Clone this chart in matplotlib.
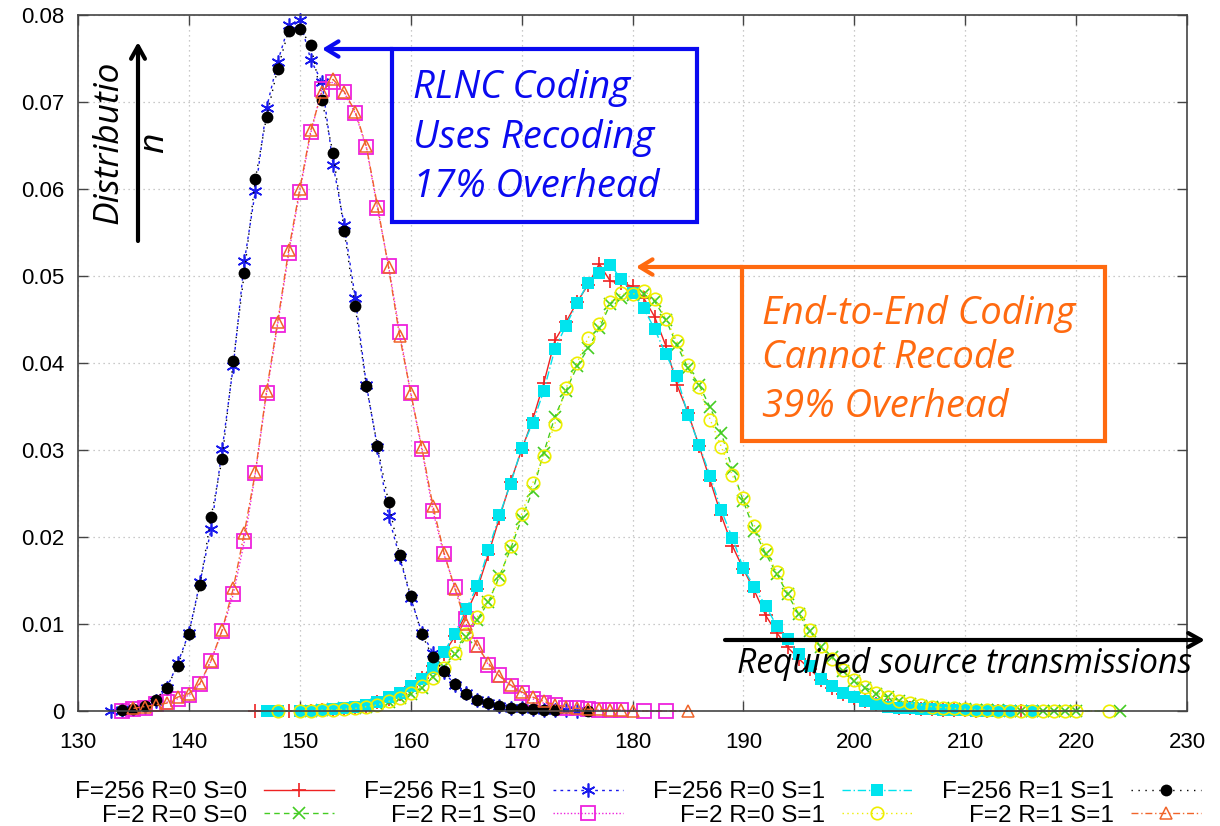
import numpy as np
import matplotlib.pyplot as plt
from matplotlib.patches import Rectangle

plt.rcParams['font.family'] = ['Liberation Sans', 'DejaVu Sans']

W, H = 1220, 826

# ---- data: probability of needing x source transmissions ----
# F=256 R=0 S=0 (core starts at 151)
red_start = 151
red_y = [0.0, 0.0001, 0.0001, 0.0002, 0.0004, 0.0006, 0.0010, 0.0014, 0.0020, 0.0028,
         0.0038, 0.0052, 0.0066, 0.0086, 0.0112, 0.0140, 0.0180, 0.0222, 0.0263, 0.0300,
         0.0335, 0.0377, 0.0426, 0.0447, 0.0470, 0.0490, 0.0514, 0.0494, 0.0492, 0.0488,
         0.0475, 0.0453, 0.0420, 0.0375, 0.0343, 0.0305, 0.0265, 0.0225, 0.0190, 0.0163,
         0.0138, 0.0110, 0.0090, 0.0073, 0.0060, 0.0048, 0.0036, 0.0027, 0.0020, 0.0015,
         0.0011, 0.0008, 0.0006, 0.0004, 0.0003, 0.0002, 0.0002, 0.0001, 0.0001, 0.0001,
         0.0, 0.0, 0.0]
red_pre, red_post = [146, 149], [215]

# F=2 R=0 S=0 (core starts at 151)
green_start = 151
green_y = [0.0, 0.0001, 0.0002, 0.0003, 0.0004, 0.0005, 0.0008, 0.0010, 0.0015, 0.0020,
           0.0027, 0.0039, 0.0051, 0.0066, 0.0085, 0.0105, 0.0125, 0.0155, 0.0186, 0.0221,
           0.0253, 0.0297, 0.0338, 0.0368, 0.0396, 0.0417, 0.0440, 0.0468, 0.0475, 0.0478,
           0.0479, 0.0471, 0.0450, 0.0421, 0.0394, 0.0375, 0.0349, 0.0320, 0.0278, 0.0241,
           0.0207, 0.0181, 0.0158, 0.0134, 0.0111, 0.0092, 0.0073, 0.0062, 0.0046, 0.0035,
           0.0027, 0.0020, 0.0016, 0.0012, 0.0008, 0.0006, 0.0005, 0.0003, 0.0002, 0.0002,
           0.0001, 0.0001, 0.0001, 0.0, 0.0, 0.0, 0.0, 0.0, 0.0, 0.0]
green_pre, green_post = [], [224]

# F=256 R=1 S=0 (core starts at 133)
blue_start = 133
blue_y = [0.0, 0.0001, 0.0002, 0.0005, 0.0012, 0.0026, 0.0055, 0.0090, 0.0148, 0.0209,
          0.0301, 0.0396, 0.0517, 0.0598, 0.0693, 0.0746, 0.0788, 0.0794, 0.0748, 0.0723,
          0.0628, 0.0559, 0.0475, 0.0375, 0.0303, 0.0224, 0.0177, 0.0130, 0.0090, 0.0067,
          0.0045, 0.0030, 0.0021, 0.0013, 0.0009, 0.0006, 0.0004, 0.0003, 0.0002, 0.0001,
          0.0001, 0.0001, 0.0]
blue_pre, blue_post = [], []

# F=2 R=1 S=0 (core starts at 134)
mag_start = 134
mag_y = [0.0, 0.0002, 0.0004, 0.0008, 0.0010, 0.0014, 0.0018, 0.0031, 0.0058, 0.0092,
         0.0134, 0.0195, 0.0274, 0.0365, 0.0444, 0.0526, 0.0597, 0.0665, 0.0715, 0.0723,
         0.0711, 0.0687, 0.0648, 0.0578, 0.0512, 0.0436, 0.0365, 0.0301, 0.0230, 0.0180,
         0.0142, 0.0106, 0.0076, 0.0053, 0.0041, 0.0029, 0.0021, 0.0014, 0.0009, 0.0007,
         0.0004, 0.0003, 0.0002, 0.0001, 0.0001, 0.0001]
mag_pre, mag_post = [], [181, 183]

# F=256 R=0 S=1 (core starts at 150)
cyan_start = 150
cyan_y = [0.0, 0.0, 0.0001, 0.0002, 0.0003, 0.0005, 0.0007, 0.0010, 0.0016, 0.0021,
          0.0029, 0.0037, 0.0050, 0.0068, 0.0089, 0.0117, 0.0144, 0.0185, 0.0225, 0.0261,
          0.0302, 0.0331, 0.0368, 0.0416, 0.0443, 0.0469, 0.0492, 0.0504, 0.0513, 0.0496,
          0.0481, 0.0463, 0.0439, 0.0410, 0.0385, 0.0340, 0.0306, 0.0270, 0.0231, 0.0199,
          0.0164, 0.0142, 0.0121, 0.0098, 0.0083, 0.0065, 0.0052, 0.0037, 0.0029, 0.0021,
          0.0016, 0.0012, 0.0008, 0.0005, 0.0004, 0.0003, 0.0002, 0.0002, 0.0001, 0.0001,
          0.0001, 0.0, 0.0, 0.0, 0.0]
cyan_pre, cyan_post = [147, 148], [216]

# F=2 R=0 S=1 (core starts at 150)
yel_start = 150
yel_y = [0.0, 0.0, 0.0001, 0.0001, 0.0002, 0.0003, 0.0005, 0.0007, 0.0011, 0.0015,
         0.0021, 0.0029, 0.0038, 0.0050, 0.0067, 0.0088, 0.0108, 0.0127, 0.0152, 0.0190,
         0.0226, 0.0262, 0.0293, 0.0330, 0.0371, 0.0400, 0.0429, 0.0445, 0.0470, 0.0480,
         0.0479, 0.0483, 0.0474, 0.0451, 0.0425, 0.0398, 0.0372, 0.0335, 0.0304, 0.0271,
         0.0245, 0.0213, 0.0185, 0.0160, 0.0136, 0.0113, 0.0093, 0.0075, 0.0060, 0.0047,
         0.0036, 0.0028, 0.0021, 0.0016, 0.0012, 0.0009, 0.0007, 0.0005, 0.0004, 0.0003,
         0.0002, 0.0001, 0.0001, 0.0, 0.0, 0.0, 0.0, 0.0, 0.0, 0.0, 0.0]
yel_pre, yel_post = [148], [223]

# F=256 R=1 S=1 (core starts at 134)
blk_start = 134
blk_y = [0.0001, 0.0002, 0.0006, 0.0013, 0.0027, 0.0052, 0.0089, 0.0145, 0.0223, 0.0290,
         0.0402, 0.0504, 0.0612, 0.0683, 0.0738, 0.0782, 0.0784, 0.0766, 0.0702, 0.0641,
         0.0552, 0.0465, 0.0373, 0.0305, 0.0240, 0.0179, 0.0132, 0.0088, 0.0062, 0.0046,
         0.0031, 0.0020, 0.0013, 0.0009, 0.0006, 0.0004, 0.0003, 0.0002, 0.0001, 0.0001]
blk_pre, blk_post = [], [176]

# F=2 R=1 S=1 (core starts at 135)
org_start = 135
org_y = [0.0003, 0.0005, 0.0007, 0.0009, 0.0016, 0.0020, 0.0032, 0.0058, 0.0093, 0.0141,
         0.0205, 0.0275, 0.0368, 0.0447, 0.0530, 0.0600, 0.0668, 0.0712, 0.0726, 0.0712,
         0.0689, 0.0649, 0.0581, 0.0510, 0.0431, 0.0366, 0.0303, 0.0236, 0.0182, 0.0140,
         0.0100, 0.0075, 0.0055, 0.0040, 0.0030, 0.0022, 0.0016, 0.0011, 0.0007, 0.0005,
         0.0003, 0.0002, 0.0002, 0.0001, 0.0001, 0.0]
org_pre, org_post = [], [185]

labels = ['F=256 R=0 S=0', 'F=2 R=0 S=0', 'F=256 R=1 S=0', 'F=2 R=1 S=0',
          'F=256 R=0 S=1', 'F=2 R=0 S=1', 'F=256 R=1 S=1', 'F=2 R=1 S=1']

x_ticks = [130, 140, 150, 160, 170, 180, 190, 200, 210, 220, 230]
y_ticks = [0, 0.01, 0.02, 0.03, 0.04, 0.05, 0.06, 0.07, 0.08]
y_ticklabels = ['0', '0.01', '0.02', '0.03', '0.04', '0.05', '0.06', '0.07', '0.08']


def series(start, ys, pre, post):
    core = list(range(start, start + len(ys)))
    return pre + core + post, [0.0] * len(pre) + list(ys) + [0.0] * len(post)


def fp(x, y):
    # pixel position in the picture -> figure fraction
    return (x / W, 1 - y / H)


fig = plt.figure(figsize=(12.2, 8.26), dpi=100)
ax = fig.add_axes([78 / W, 1 - 711 / H, (1187 - 78) / W, (711 - 15) / H])

styles = [
    (red_start, red_y, red_pre, red_post,
     dict(color='#ee2222', ls='-', marker='+', ms=10, mew=1.2, mfc='none')),
    (green_start, green_y, green_pre, green_post,
     dict(color='#44cc22', ls=(0, (4, 3)), marker='x', ms=8, mew=1.2)),
    (blue_start, blue_y, blue_pre, blue_post,
     dict(color='#1a1aee', ls=(0, (2, 3)), marker=(6, 2, 0), ms=10, mew=1.2)),
    (mag_start, mag_y, mag_pre, mag_post,
     dict(color='#ee22dd', ls=(0, (1, 1.5)), marker='s', ms=9.5, mew=1.3, mfc='none')),
    (cyan_start, cyan_y, cyan_pre, cyan_post,
     dict(color='#00e4ee', ls=(0, (6, 2, 1, 2)), marker='s', ms=9, mew=0)),
    (yel_start, yel_y, yel_pre, yel_post,
     dict(color='#eeee00', ls=(0, (1, 2.5)), marker='o', ms=9, mew=1.2, mfc='none')),
    (blk_start, blk_y, blk_pre, blk_post,
     dict(color='#000000', ls=(0, (1, 4)), marker='o', ms=8.5, mew=0)),
    (org_start, org_y, org_pre, org_post,
     dict(color='#f0642a', ls=(0, (5, 2, 1, 2)), marker='^', ms=8, mew=1.1, mfc='none')),
]

for (start, ys, pre, post, st), lab in zip(styles, labels):
    xs, yv = series(start, ys, pre, post)
    ax.plot(xs, yv, lw=1.0, label=lab, clip_on=False, **st)

ax.set_xlim(130, 230)
ax.set_ylim(0, 0.08)
ax.set_xticks(x_ticks)
ax.set_yticks(y_ticks)
ax.set_yticklabels(y_ticklabels)
ax.tick_params(direction='in', length=7, width=1, top=True, right=True,
               labelsize=16, pad=10, color='#444444')
ax.tick_params(axis='x', pad=15)
ax.grid(True, ls=(0, (1, 3)), color='#b8b8b8', lw=0.9)
for sp in ax.spines.values():
    sp.set_color('#444444')
    sp.set_linewidth(1.2)

fig.legend(loc='center', bbox_to_anchor=(638 / W, 1 - 804 / H), ncol=4,
           markerfirst=False, frameon=False, fontsize=17.5, handlelength=2.9,
           handletextpad=0.7, columnspacing=1.22, labelspacing=0.08,
           borderpad=0.2)

# ---- annotations ----
blue = '#0a0af0'
orange = '#ff6a10'
ann_font = dict(family=['Open Sans', 'DejaVu Sans'], style='italic')

fig.add_artist(Rectangle(fp(392, 222), (697 - 392) / W, (222 - 49) / H,
                         transform=fig.transFigure, fill=False, ec=blue, lw=3))
ax.annotate('', xy=fp(322, 49), xytext=fp(393, 49), xycoords='figure fraction',
            arrowprops=dict(arrowstyle='->,head_length=0.9,head_width=0.55',
                            color=blue, lw=3, shrinkA=0, shrinkB=0))
for txt, yb in zip(['RLNC Coding', 'Uses Recoding', '17% Overhead'], [98, 148, 197]):
    fig.text(*fp(413, yb), txt, color=blue, size=27.5, va='baseline', **ann_font)

fig.add_artist(Rectangle(fp(742, 441), (1105 - 742) / W, (441 - 267) / H,
                         transform=fig.transFigure, fill=False, ec=orange, lw=3))
ax.annotate('', xy=fp(636, 267), xytext=fp(743, 267), xycoords='figure fraction',
            arrowprops=dict(arrowstyle='->,head_length=0.9,head_width=0.55',
                            color=orange, lw=3, shrinkA=0, shrinkB=0))
for txt, yb in zip(['End-to-End Coding', 'Cannot Recode', '39% Overhead'], [324, 368, 417]):
    fig.text(*fp(762, yb), txt, color=orange, size=27.5, va='baseline', **ann_font)

ax.annotate('', xy=fp(138, 42), xytext=fp(138, 241), xycoords='figure fraction',
            arrowprops=dict(arrowstyle='->,head_length=0.9,head_width=0.5',
                            color='black', lw=3, shrinkA=0, shrinkB=0))
fig.text(*fp(118, 142), 'Distributio', rotation=90, rotation_mode='anchor',
         ha='center', va='baseline', color='black', size=25.5, **ann_font)
fig.text(*fp(163, 143), 'n', rotation=90, rotation_mode='anchor',
         ha='center', va='baseline', color='black', size=25.5, **ann_font)

ax.annotate('', xy=fp(1205, 640), xytext=fp(725, 640), xycoords='figure fraction',
            arrowprops=dict(arrowstyle='->,head_length=0.9,head_width=0.5',
                            color='black', lw=3, shrinkA=0, shrinkB=0))
fig.text(*fp(737, 673), 'Required source transmissions', color='black', size=24.3,
         va='baseline', **ann_font)

fig.savefig('out.png', dpi=100)
